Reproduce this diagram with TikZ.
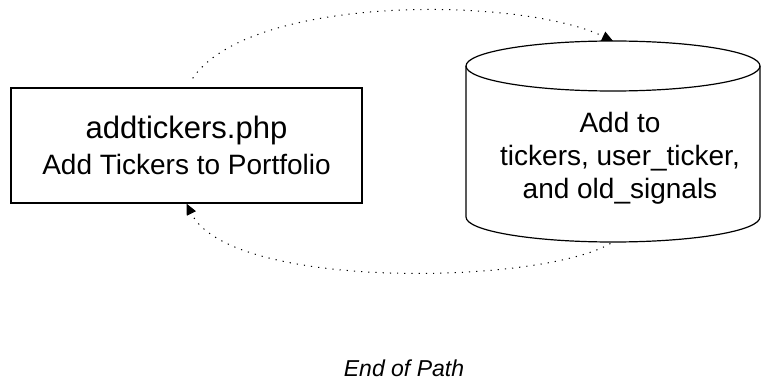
\documentclass[tikz,border=0pt]{standalone}
\usepackage{fontspec}
\setmainfont{Liberation Sans}
\usetikzlibrary{arrows.meta}

\tikzset{
  pagebox/.style={draw, line width=1.2pt, minimum width=351pt, minimum height=115pt, inner sep=0pt, align=center},
  tableline/.style={line width=1.2pt},
  flow/.style={line width=1pt, dash pattern=on 1.2pt off 6pt, -{Triangle[length=11pt,width=10pt]}},
}

\begin{document}
\begin{tikzpicture}[x=1pt,y=-1pt]
        \useasboundingbox (0,0) rectangle (762,382);
        \node[pagebox] (prog) at (186.5,145.5) {\fontsize{31}{36}\selectfont addtickers.php\\[9pt]\fontsize{28}{36}\selectfont Add Tickers to Portfolio};

        % the table cylinder
        \draw[tableline] (613,66) ellipse (147pt and 25pt);
        \draw[tableline] (466,66) -- (466,217) arc (180:360:147pt and 25pt) -- (760,66);
        \coordinate (dbtop) at (613,41);
        \coordinate (dbbot) at (613,242);
        \node[align=center, font=\fontsize{28}{33}\selectfont] (dbtext) at (620,158) {Add to\\tickers, user\_ticker,\\and old\_signals};

        \node[font=\fontsize{23}{28}\selectfont\itshape] (endlbl) at (404,368) {End of Path};

        \draw[flow, shorten <=11pt] (prog.north) .. controls +(63,-93) and +(-94,-45) .. (dbtop);
        \draw[flow, shorten <=3pt] (dbbot) .. controls +(-74,43) and +(43,87) .. (prog.south);
\end{tikzpicture}
\end{document}
